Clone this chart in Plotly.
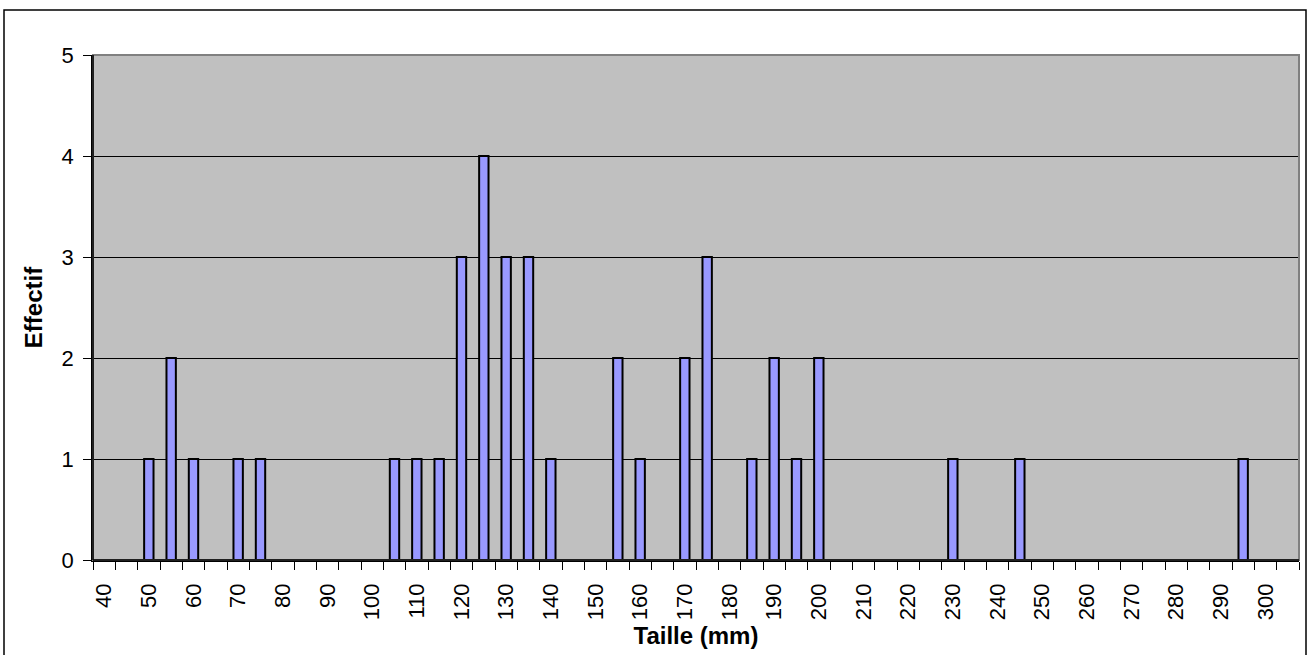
import plotly.graph_objects as go

# Data
sizes = [50, 55, 60, 70, 75, 105, 110, 115, 120, 125, 130, 135, 140,
         155, 160, 170, 175, 185, 190, 195, 200, 230, 245, 295]
counts = [1, 2, 1, 1, 1, 1, 1, 1, 3, 4, 3, 3, 1,
          2, 1, 2, 3, 1, 2, 1, 2, 1, 1, 1]
tick_labels = list(range(40, 301, 10))
categories = list(range(40, 306, 5))

W, H = 1309, 655
L, R, T, B = 93, 10, 55, 95
PW, PH = W - L - R, H - T - B

fig = go.Figure()
fig.add_trace(go.Bar(
    x=sizes, y=counts, width=2.1,
    marker=dict(color="#9999FF", line=dict(color="black", width=2)),
))

boundaries = [c - 2.5 for c in categories] + [categories[-1] + 2.5]

fig.update_layout(
    width=W, height=H,
    margin=dict(l=L, r=R, t=T, b=B),
    paper_bgcolor="white",
    plot_bgcolor="#C0C0C0",
    showlegend=False,
    font=dict(family="Liberation Sans, Arial", color="black", size=22),
    xaxis=dict(
        range=[categories[0] - 2.5, categories[-1] + 2.5],
        tickmode="array", tickvals=tick_labels,
        ticktext=[str(v) for v in tick_labels],
        tickangle=-90, ticks="", showgrid=False, zeroline=False,
        showline=True, linecolor="black", linewidth=1.5,
        tickfont=dict(size=22), ticklabelstandoff=13,
        minor=dict(tickmode="array", tickvals=boundaries, ticks="outside",
                   ticklen=8, tickcolor="black", tickwidth=1.2, showgrid=False),
        title=dict(text="<b>Taille (mm)</b>", font=dict(size=24), standoff=8),
    ),
    yaxis=dict(
        range=[0, 5], dtick=1, tick0=0,
        ticks="outside", ticklen=8, tickcolor="black", tickwidth=1.2,
        showgrid=True, gridcolor="black", gridwidth=1,
        zeroline=False, showline=True, linecolor="black", linewidth=1.5,
        tickfont=dict(size=22), ticklabelstandoff=5,
        title=dict(text="<b>Effectif</b>", font=dict(size=24), standoff=12),
    ),
    shapes=[
        dict(type="rect", xref="paper", yref="paper", x0=0, x1=1, y0=0, y1=1,
             line=dict(color="#808080", width=2), layer="above"),
        dict(type="line", xref="paper", yref="paper", x0=0, x1=0, y0=0, y1=1,
             line=dict(color="black", width=1.5), layer="above"),
        dict(type="line", xref="paper", yref="paper", x0=0, x1=1, y0=0, y1=0,
             line=dict(color="black", width=1.5), layer="above"),
        dict(type="rect", xref="paper", yref="paper",
             x0=(4 - L) / PW, x1=(1306 - L) / PW,
             y0=-(B + 20) / PH, y1=1 + (T - 10) / PH,
             line=dict(color="black", width=1.5), layer="above"),
    ],
)

fig.write_html("out.html", config={"displayModeBar": False},
               post_script="document.body.style.margin='0';document.body.style.overflow='hidden';")
